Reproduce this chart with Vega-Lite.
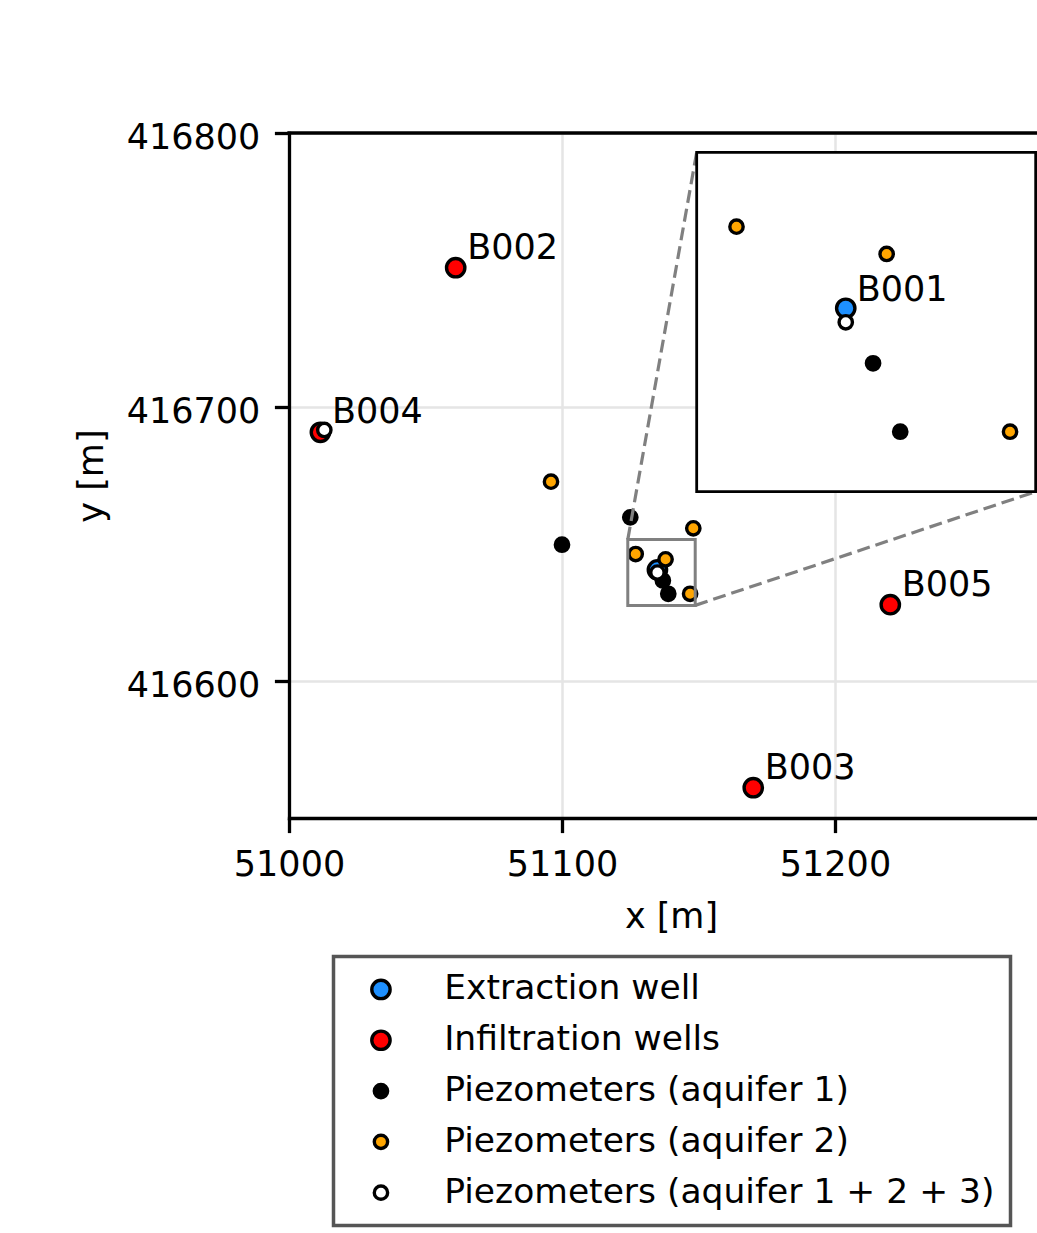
{
  "$schema": "https://vega.github.io/schema/vega-lite/v6.json",
  "width": 748,
  "height": 685,
  "autosize": {"type": "none"},
  "padding": {"left": 289, "top": 133, "right": 0, "bottom": 415},
  "background": "white",
  "config": {
    "font": "DejaVu Sans",
    "view": {"stroke": null},
    "axis": {
      "domainColor": "black", "domainWidth": 3.3, "domainCap": "square",
      "tickColor": "black", "tickWidth": 3.3, "tickSize": 14.6,
      "labelFont": "DejaVu Sans", "labelFontSize": 35, "labelColor": "black", "labelFlush": false, "labelOverlap": false,
      "titleFont": "DejaVu Sans", "titleFontSize": 35, "titleFontWeight": "normal", "titleColor": "black",
      "gridColor": "#e5e5e5", "gridWidth": 2.5
    },
    "legend": {
      "orient": "none", "legendX": 44.5, "legendY": 823.5, "title": null,
      "labelFontSize": 34.5, "labelFont": "DejaVu Sans", "labelColor": "black", "labelLimit": 1000,
      "symbolType": "circle", "symbolStrokeColor": "black", "symbolStrokeWidth": 3.3, "symbolOpacity": 1, "symbolSize": 336,
      "strokeColor": "#555555", "fillColor": "white", "padding": 15.7, "rowPadding": 15.8,
      "symbolOffset": 14.5, "labelOffset": 46
    }
  },
  "datasets": {
    "wells": [
      {"name": "B001", "type": "Extraction well", "x": 51134.96, "y": 416640.57},
      {"name": "B002", "type": "Infiltration wells", "x": 51061.06, "y": 416750.84},
      {"name": "B003", "type": "Infiltration wells", "x": 51170.07, "y": 416561.06},
      {"name": "B004", "type": "Infiltration wells", "x": 51011.5, "y": 416690.77},
      {"name": "B005", "type": "Infiltration wells", "x": 51220.26, "y": 416627.85},
      {"name": "", "type": "Piezometers (aquifer 1)", "x": 51100.0, "y": 416649.74},
      {"name": "", "type": "Piezometers (aquifer 1)", "x": 51125.02, "y": 416659.74},
      {"name": "", "type": "Piezometers (aquifer 1)", "x": 51136.95, "y": 416636.68},
      {"name": "", "type": "Piezometers (aquifer 1)", "x": 51138.93, "y": 416631.84},
      {"name": "", "type": "Piezometers (aquifer 2)", "x": 51095.97, "y": 416672.74},
      {"name": "", "type": "Piezometers (aquifer 2)", "x": 51148.1, "y": 416655.73},
      {"name": "", "type": "Piezometers (aquifer 2)", "x": 51127.0, "y": 416646.34},
      {"name": "", "type": "Piezometers (aquifer 2)", "x": 51137.94, "y": 416644.41},
      {"name": "", "type": "Piezometers (aquifer 2)", "x": 51146.93, "y": 416631.84},
      {"name": "", "type": "Piezometers (aquifer 1 + 2 + 3)", "x": 51134.96, "y": 416639.58},
      {"name": "", "type": "Piezometers (aquifer 1 + 2 + 3)", "x": 51012.93, "y": 416691.61}
    ]
  },
  "layer": [
    {
      "layer": [
        {
          "data": {"name": "wells"},
          "mark": {"type": "point", "shape": "circle", "filled": true, "stroke": "black", "strokeWidth": 3.4, "opacity": 1},
          "encoding": {
            "x": {"field": "x", "type": "quantitative",
                  "scale": {"domain": [51000, 51274], "nice": false, "zero": false},
                  "axis": {"values": [51000, 51100, 51200], "format": "d", "title": "x [m]", "titleX": 382, "titlePadding": 17, "labelPadding": 15.2, "grid": true}},
            "y": {"field": "y", "type": "quantitative",
                  "scale": {"domain": [416550, 416800], "nice": false, "zero": false},
                  "axis": {"values": [416600, 416700, 416800], "format": "d", "title": "y [m]", "titlePadding": 17, "labelPadding": 14.6, "labelOffset": 4, "grid": true}},
            "fill": {"field": "type", "type": "nominal",
                     "scale": {"domain": ["Extraction well", "Infiltration wells", "Piezometers (aquifer 1)", "Piezometers (aquifer 2)", "Piezometers (aquifer 1 + 2 + 3)"],
                               "range": ["#1e90ff", "#ff0000", "#000000", "#ffa500", "#ffffff"]},
                     "legend": {"title": null,
                                "encode": {"symbols": {"update": {"stroke": {"value": "black"}, "strokeWidth": {"value": 3.4},
                                                                  "size": {"signal": "(datum.value == 'Extraction well' || datum.value == 'Infiltration wells') ? 336 : 178"}}},
                                           "legend": {"update": {"strokeWidth": {"value": 3.5}}}}}},
            "size": {"condition": {"test": "datum.type == 'Extraction well' || datum.type == 'Infiltration wells'", "value": 336}, "value": 178}
          }
        },
        {
          "data": {"name": "wells"},
          "transform": [{"filter": "datum.type == 'Infiltration wells'"}],
          "mark": {"type": "text", "align": "left", "baseline": "alphabetic", "dx": 11.5, "dy": -9, "fontSize": 35, "font": "DejaVu Sans", "color": "black"},
          "encoding": {
            "x": {"field": "x", "type": "quantitative"},
            "y": {"field": "y", "type": "quantitative"},
            "text": {"field": "name"}
          }
        },
        {
          "data": {"values": [{}]},
          "mark": {"type": "rect", "fill": null, "fillOpacity": 0, "stroke": "#808080", "strokeWidth": 3},
          "encoding": {
            "x": {"datum": 51124.1, "type": "quantitative"},
            "x2": {"datum": 51148.8},
            "y": {"datum": 416627.6, "type": "quantitative"},
            "y2": {"datum": 416651.6}
          }
        },
        {
          "data": {"values": [{}]},
          "mark": {"type": "rule", "color": "#808080", "strokeWidth": 3.2, "strokeDash": [13, 6]},
          "encoding": {
            "x": {"datum": 51124.1, "type": "quantitative"},
            "x2": {"datum": 51149.34},
            "y": {"datum": 416651.6, "type": "quantitative"},
            "y2": {"datum": 416792.96}
          }
        },
        {
          "data": {"values": [{}]},
          "mark": {"type": "rule", "color": "#808080", "strokeWidth": 3.2, "strokeDash": [13, 6]},
          "encoding": {
            "x": {"datum": 51148.8, "type": "quantitative"},
            "x2": {"datum": 51273.52},
            "y": {"datum": 416627.6, "type": "quantitative"},
            "y2": {"datum": 416669.1}
          }
        },
        {
          "data": {"values": [{}]},
          "mark": {"type": "rule", "color": "black", "strokeWidth": 3.3, "strokeCap": "square"},
          "encoding": {
            "y": {"datum": 416800, "type": "quantitative"}
          }
        },
        {
          "data": {"values": [{}]},
          "mark": {"type": "rect", "fill": "white", "stroke": "black", "strokeWidth": 2.8},
          "encoding": {
            "x": {"datum": 51149.34, "type": "quantitative"},
            "x2": {"datum": 51273.52},
            "y": {"datum": 416669.1, "type": "quantitative"},
            "y2": {"datum": 416792.96}
          }
        }
      ]
    },
    {
      "layer": [
        {
          "data": {"name": "wells"},
          "transform": [
            {"filter": {"field": "x", "range": [51124.1, 51148.8]}},
            {"filter": {"field": "y", "range": [416627.6, 416651.6]}}
          ],
          "mark": {"type": "point", "shape": "circle", "filled": true, "stroke": "black", "strokeWidth": 3.4, "opacity": 1},
          "encoding": {
            "x": {"field": "x", "type": "quantitative",
                  "scale": {"domain": [51124.1, 51148.8], "range": [407.7, 746.7], "nice": false, "zero": false},
                  "axis": null},
            "y": {"field": "y", "type": "quantitative",
                  "scale": {"domain": [416627.6, 416651.6], "range": [358.7, 19.3], "nice": false, "zero": false},
                  "axis": null},
            "fill": {"field": "type", "type": "nominal"},
            "size": {"condition": {"test": "datum.type == 'Extraction well' || datum.type == 'Infiltration wells'", "value": 336}, "value": 178}
          }
        },
        {
          "data": {"name": "wells"},
          "transform": [{"filter": "datum.type == 'Extraction well'"}],
          "mark": {"type": "text", "align": "left", "baseline": "alphabetic", "dx": 11, "dy": -7.5, "fontSize": 35, "font": "DejaVu Sans", "color": "black"},
          "encoding": {
            "x": {"field": "x", "type": "quantitative"},
            "y": {"field": "y", "type": "quantitative"},
            "text": {"field": "name"}
          }
        }
      ]
    }
  ],
  "resolve": {"scale": {"x": "independent", "y": "independent"}}
}
